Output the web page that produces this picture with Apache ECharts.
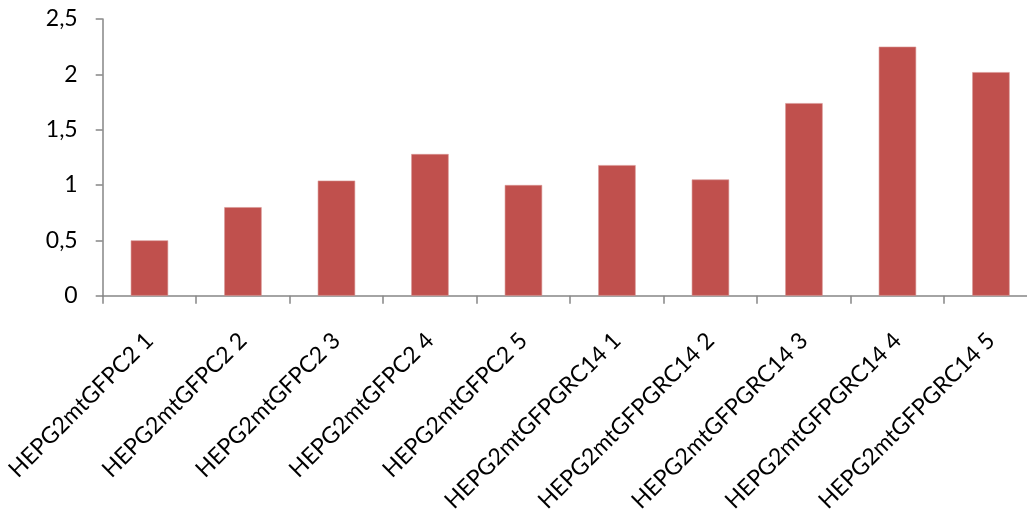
<!DOCTYPE html>
<html>
<head>
<meta charset="utf-8">
<script src="https://cdn.jsdelivr.net/npm/echarts@6/dist/echarts.min.js"></script>
<style>
  html, body { margin: 0; padding: 0; background: #ffffff; }
  #chart { width: 1027px; height: 511px; }
</style>
</head>
<body>
<div id="chart"></div>
<script>
// Sample names along the x axis
const categories = [
  'HEPG2mtGFPC2 1', 'HEPG2mtGFPC2 2', 'HEPG2mtGFPC2 3', 'HEPG2mtGFPC2 4', 'HEPG2mtGFPC2 5',
  'HEPG2mtGFPGRC14 1', 'HEPG2mtGFPGRC14 2', 'HEPG2mtGFPGRC14 3', 'HEPG2mtGFPGRC14 4', 'HEPG2mtGFPGRC14 5'
];
// Measured values per sample
const values = [0.50, 0.80, 1.04, 1.28, 1.00, 1.18, 1.05, 1.74, 2.25, 2.02];
// Value axis range and step
const yMin = 0;
const yMax = 2.5;
const yStep = 0.5;

const axisGray = '#868686';
const fontFamily = 'Lato, "Open Sans", sans-serif';

const chart = echarts.init(document.getElementById('chart'), null, { renderer: 'canvas' });
chart.setOption({
  backgroundColor: '#ffffff',
  animation: false,
  grid: {
    left: 102.7, top: 19, right: -10.7, bottom: 215.3,
    containLabel: false,
    outerBoundsMode: 'none'
  },
  xAxis: {
    type: 'category',
    data: categories,
    boundaryGap: true,
    axisLine: { show: true, lineStyle: { color: axisGray, width: 1.5 } },
    axisTick: { show: true, length: 8, lineStyle: { color: axisGray, width: 1.5 } },
    axisLabel: {
      interval: 0,
      rotate: 45,
      margin: 41,
      color: '#000000',
      fontFamily: fontFamily,
      fontSize: 23
    },
    splitLine: { show: false }
  },
  yAxis: {
    type: 'value',
    min: yMin,
    max: yMax,
    interval: yStep,
    axisLine: { show: true, lineStyle: { color: axisGray, width: 1.5 } },
    axisTick: { show: true, length: 7, lineStyle: { color: axisGray, width: 1.5 } },
    axisLabel: {
      margin: 25,
      color: '#000000',
      fontFamily: fontFamily,
      fontSize: 23,
      formatter: v => String(v).replace('.', ',')
    },
    splitLine: { show: false }
  },
  series: [{
    type: 'bar',
    data: values,
    barCategoryGap: '60%',
    itemStyle: { color: '#C0504D', borderColor: '#D99694', borderWidth: 0.6 }
  }]
});
</script>
</body>
</html>
